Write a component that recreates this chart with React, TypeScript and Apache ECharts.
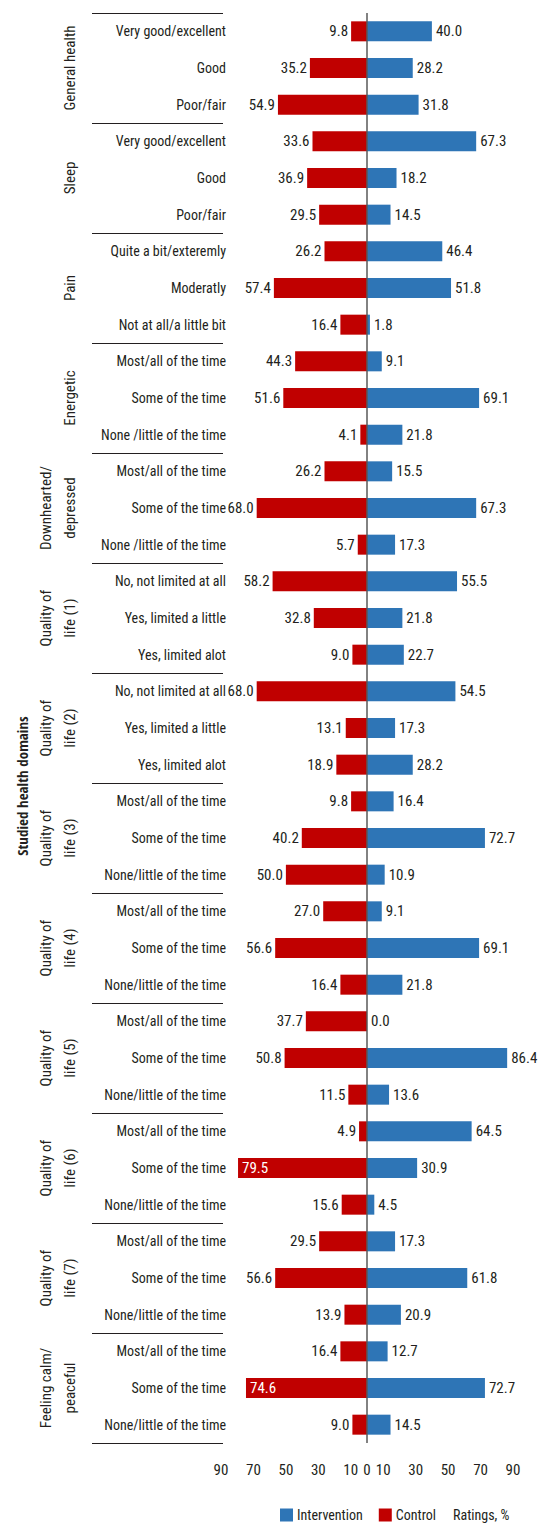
import React, { useEffect, useRef } from "react";
import * as echarts from "echarts";

const groups = [
  "General health",
  "Sleep",
  "Pain",
  "Energetic",
  "Downhearted/\ndepressed",
  "Quality of\nlife (1)",
  "Quality of\nlife (2)",
  "Quality of\nlife (3)",
  "Quality of\nlife (4)",
  "Quality of\nlife (5)",
  "Quality of\nlife (6)",
  "Quality of\nlife (7)",
  "Feeling calm/\npeaceful",
];

const categories = [
  "Very good/excellent", "Good", "Poor/fair",
  "Very good/excellent", "Good", "Poor/fair",
  "Quite a bit/exteremly", "Moderatly", "Not at all/a little bit",
  "Most/all of the time", "Some of the time", "None /little of the time",
  "Most/all of the time", "Some of the time", "None /little of the time",
  "No, not limited at all", "Yes, limited a little", "Yes, limited alot",
  "No, not limited at all", "Yes, limited a little", "Yes, limited alot",
  "Most/all of the time", "Some of the time", "None/little of the time",
  "Most/all of the time", "Some of the time", "None/little of the time",
  "Most/all of the time", "Some of the time", "None/little of the time",
  "Most/all of the time", "Some of the time", "None/little of the time",
  "Most/all of the time", "Some of the time", "None/little of the time",
  "Most/all of the time", "Some of the time", "None/little of the time",
];

const controlValues = [
  9.8, 35.2, 54.9,
  33.6, 36.9, 29.5,
  26.2, 57.4, 16.4,
  44.3, 51.6, 4.1,
  26.2, 68.0, 5.7,
  58.2, 32.8, 9.0,
  68.0, 13.1, 18.9,
  9.8, 40.2, 50.0,
  27.0, 56.6, 16.4,
  37.7, 50.8, 11.5,
  4.9, 79.5, 15.6,
  29.5, 56.6, 13.9,
  16.4, 74.6, 9.0,
];

const interventionValues = [
  40.0, 28.2, 31.8,
  67.3, 18.2, 14.5,
  46.4, 51.8, 1.8,
  9.1, 69.1, 21.8,
  15.5, 67.3, 17.3,
  55.5, 21.8, 22.7,
  54.5, 17.3, 28.2,
  16.4, 72.7, 10.9,
  9.1, 69.1, 21.8,
  0.0, 86.4, 13.6,
  64.5, 30.9, 4.5,
  17.3, 61.8, 20.9,
  12.7, 72.7, 14.5,
];

const shownTicks = [-90, -70, -50, -30, -10, 0, 10, 30, 50, 70, 90];

const FONT = "'Roboto Condensed', 'Liberation Sans', sans-serif";
const BOLD_FONT = "'Open Sans Condensed', 'Roboto Condensed', sans-serif";
const FS = 14;
const TEXT = "#231f20";
const RED = "#c00000";
const BLUE = "#2e75b6";

export default function App() {
  const ref = useRef<HTMLDivElement>(null);

  useEffect(() => {
    document.body.style.margin = "0";
    if (!ref.current) return;
    const chart = echarts.init(ref.current, null, { renderer: "svg" });
    const fmt = (p: any) => Math.abs(Number(p.value)).toFixed(1);

    chart.setOption({
      animation: false,
      textStyle: { fontFamily: FONT },
      grid: { left: 221, right: 31, top: 13, bottom: 81, containLabel: false },
      legend: {
        left: 280,
        top: 1508,
        padding: 0,
        itemWidth: 13,
        itemHeight: 13,
        itemGap: 16,
        icon: "rect",
        data: ["Intervention", "Control"],
        textStyle: { fontFamily: FONT, fontSize: FS, color: TEXT, padding: [0, 0, 0, -1] },
      },
      graphic: [
        {
          type: "text",
          x: 22,
          y: 786,
          rotation: Math.PI / 2,
          style: {
            text: "Studied health domains",
            font: `bold 15px ${BOLD_FONT}`,
            fill: TEXT,
            align: "center",
            verticalAlign: "middle",
            textAlign: "center",
            textVerticalAlign: "middle",
          },
        },
        {
          type: "text",
          x: 453,
          y: 1515,
          style: {
            text: "Ratings, %",
            font: `${FS}px ${FONT}`,
            fill: TEXT,
            align: "left",
            verticalAlign: "middle",
            textAlign: "left",
            textVerticalAlign: "middle",
          },
        },
      ],
      xAxis: {
        type: "value",
        min: -90,
        max: 90,
        interval: 10,
        axisLine: { show: false },
        axisTick: { show: false },
        splitLine: { show: false },
        axisLabel: {
          margin: 19,
          fontSize: FS + 1,
          color: TEXT,
          fontFamily: FONT,
          formatter: (v: number) => (shownTicks.includes(v) ? String(Math.abs(v)) : ""),
        },
      },
      yAxis: [
        {
          type: "category",
          data: categories,
          inverse: true,
          position: "left",
          axisLine: { show: false },
          axisTick: { show: false },
          splitLine: { show: false },
          axisLabel: { margin: -5, fontSize: FS, color: TEXT, fontFamily: FONT, interval: 0 },
        },
        {
          type: "category",
          data: groups,
          inverse: true,
          position: "left",
          offset: -2,
          axisLine: { show: false },
          axisTick: {
            show: true,
            inside: false,
            length: 131,
            alignWithLabel: false,
            interval: 0,
            lineStyle: { color: TEXT, width: 1 },
          },
          axisLabel: {
            interval: 0,
            rotate: 90,
            margin: 141,
            fontSize: FS + 1,
            lineHeight: 24,
            color: TEXT,
            fontFamily: FONT,
            align: "center",
          },
        },
      ],
      series: [
        {
          name: "Intervention",
          type: "bar",
          yAxisIndex: 0,
          barWidth: 20,
          barGap: "-100%",
          itemStyle: { color: BLUE },
          label: {
            show: true,
            position: "right",
            distance: 4,
            fontSize: FS + 1,
            color: TEXT,
            fontFamily: FONT,
            formatter: fmt,
          },
          data: interventionValues,
        },
        {
          name: "Control",
          type: "bar",
          yAxisIndex: 0,
          barWidth: 20,
          barGap: "-100%",
          itemStyle: { color: RED },
          label: {
            show: true,
            position: "left",
            distance: 3,
            fontSize: FS + 1,
            color: TEXT,
            fontFamily: FONT,
            formatter: fmt,
          },
          data: controlValues.map((v) =>
            v > 70
              ? { value: -v, label: { position: "insideLeft", color: "#ffffff", distance: 4 } }
              : -v
          ),
          markLine: {
            silent: true,
            symbol: "none",
            label: { show: false },
            lineStyle: { color: "#595959", width: 1.5, type: "solid" },
            data: [{ xAxis: 0 }],
          },
        },
      ],
    });

    return () => chart.dispose();
  }, []);

  return <div ref={ref} style={{ width: 544, height: 1524 }} />;
}
